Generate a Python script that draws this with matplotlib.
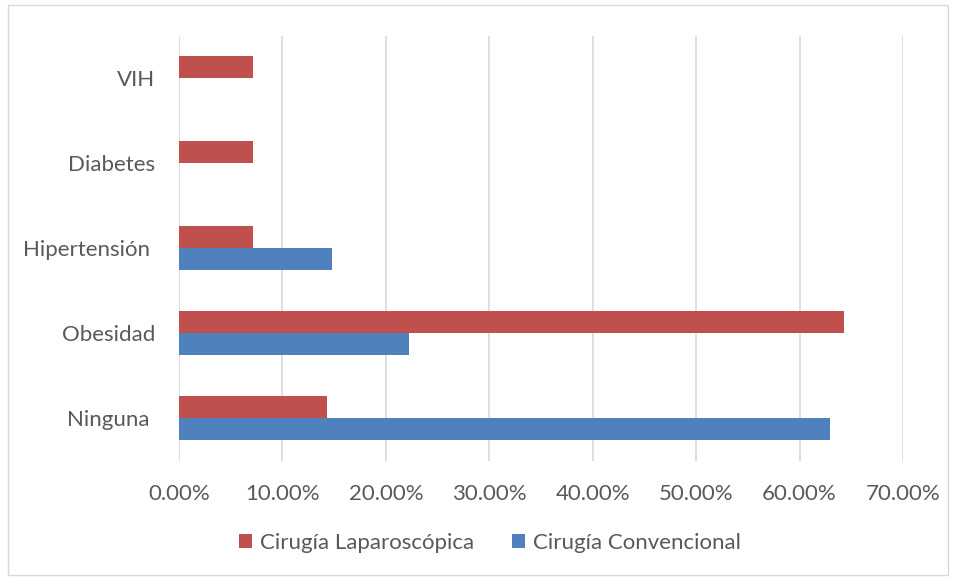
import matplotlib
matplotlib.use("Agg")
import matplotlib.pyplot as plt
from matplotlib.patches import Rectangle
import numpy as np

categories = ["Ninguna ", "Obesidad", "Hipertensión ", "Diabetes", "VIH"]
laparoscopica = [14.29, 64.29, 7.14, 7.14, 7.14]
convencional = [62.96, 22.22, 14.81, 0.0, 0.0]
xticks = [0, 10, 20, 30, 40, 50, 60, 70]
series_names = ["Cirugía Laparoscópica", "Cirugía Convencional"]

plt.rcParams['font.family'] = ['Lato', 'DejaVu Sans']

fig = plt.figure(figsize=(9.56, 5.79), dpi=100)
fig.patches.append(Rectangle((8/956, 4/579), 940/956, 570/579, transform=fig.transFigure,
                             fill=False, edgecolor="#D9D9D9", linewidth=1))
ax = fig.add_axes([179/956, 1-460.5/579, 724/956, 425/579])

y = np.arange(len(categories))
h = 22/85
red = "#C0504D"
blue = "#4F81BD"
b1 = ax.barh(y + h/2, laparoscopica, height=h, color=red, label=series_names[0], zorder=3)
b2 = ax.barh(y - h/2, convencional, height=h, color=blue, label=series_names[1], zorder=3)

ax.set_xlim(0, 70)
ax.set_ylim(-0.5, 4.5)
ax.set_xticks(xticks)
ax.set_xticklabels([f"{v:.2f}%" for v in xticks], fontsize=16, color="#595959")
ax.set_yticks(y)
ax.set_yticklabels(categories, fontsize=16, color="#595959")
ax.tick_params(axis="both", length=0)
ax.tick_params(axis="x", pad=17)
ax.tick_params(axis="y", pad=17)
ax.grid(axis="x", color="#D9D9D9", linewidth=1.2, zorder=0)
for s in ax.spines.values():
    s.set_visible(False)

fig.legend(handles=[b1, b2], loc="center", bbox_to_anchor=(490/956, 1-543/579), ncol=2,
           frameon=False, fontsize=16, labelcolor="#595959", handlelength=0.6, handleheight=0.6,
           columnspacing=1.7, handletextpad=0.35)

fig.savefig("out.png", dpi=100)
